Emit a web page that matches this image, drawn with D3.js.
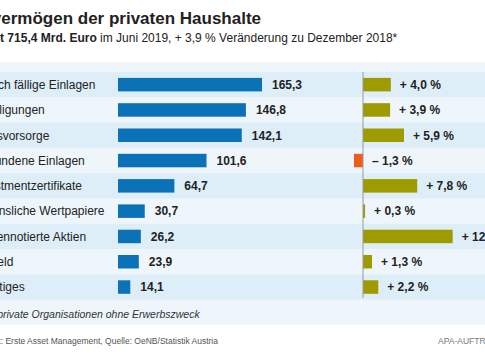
<!DOCTYPE html>
<html><head><meta charset="utf-8">
<script src="https://cdn.jsdelivr.net/npm/d3@7"></script>
<style>body{margin:0;background:#fff}svg{display:block;font-family:"Liberation Sans",Arial,sans-serif}</style>
</head><body>
<script>
const categories = ["Täglich fällige Einlagen","Beteiligungen","Altersvorsorge","Gebundene Einlagen","Investmentzertifikate","Verzinsliche Wertpapiere","Börsennotierte Aktien","Bargeld","Sonstiges"];
const volumes = [165.3,146.8,142.1,101.6,64.7,30.7,26.2,23.9,14.1];
const changes = [4.0,3.9,5.9,-1.3,7.8,0.3,12.9,1.3,2.2];

const W=485,H=360;
const svg=d3.select("body").append("svg").attr("width",W).attr("height",H);
const fmt=v=>d3.format(".1f")(Math.abs(v)).replace(".",",");

// panel
svg.append("rect").attr("x",0).attr("y",62).attr("width",W).attr("height",263).attr("fill","#eef6fc");

const y=d3.scaleBand().domain(categories).range([72,299.7]).padding(0);
const x1=d3.scaleLinear().domain([0,165.3]).range([118,262]);
const x2=d3.scaleLinear().domain([0,10]).range([363,432.5]);
const bh=13.5;

svg.selectAll(".stripe").data(categories.filter((d,i)=>i%2===0)).join("rect")
  .attr("x",0).attr("y",d=>y(d)).attr("width",W).attr("height",y.bandwidth()).attr("fill","#deeef9");

const cy=d=>y(d)+y.bandwidth()/2;

// labels
svg.selectAll(".lab").data(categories).join("text")
  .attr("x",-28).attr("y",d=>cy(d)+4.3).attr("font-size",12).attr("fill","#222").text(d=>d);

// volume bars
svg.selectAll(".vb").data(volumes).join("rect")
  .attr("x",x1(0)).attr("y",(d,i)=>cy(categories[i])-bh/2).attr("width",d=>x1(d)-x1(0)).attr("height",bh).attr("fill","#0b72b8");
svg.selectAll(".vl").data(volumes).join("text")
  .attr("x",d=>x1(d)+10).attr("y",(d,i)=>cy(categories[i])+4.3).attr("font-size",12).attr("font-weight","bold").attr("fill","#222").text(d=>fmt(d));

// change bars
svg.selectAll(".cb").data(changes).join("rect")
  .attr("x",d=>x2(Math.min(0,d))).attr("y",(d,i)=>cy(categories[i])-bh/2).attr("width",d=>Math.abs(x2(d)-x2(0))).attr("height",bh)
  .attr("fill",d=>d<0?"#ee5c1a":"#9e9b00");
svg.append("line").attr("x1",x2(0)).attr("x2",x2(0)).attr("y1",72).attr("y2",298).attr("stroke","#9a9a9a").attr("stroke-width",1);
svg.selectAll(".cl").data(changes).join("text")
  .attr("x",d=>x2(Math.max(0,d))+9).attr("y",(d,i)=>cy(categories[i])+4.3).attr("font-size",12).attr("font-weight","bold").attr("fill","#222")
  .text(d=>(d<0?"\u2013 ":"+ ")+fmt(d)+" %");

// title
svg.append("text").attr("x",-46).attr("y",24).attr("font-size",17).attr("font-weight","bold").attr("fill","#222").text("Geldvermögen der privaten Haushalte");
const st=svg.append("text").attr("x",-40).attr("y",41.5).attr("font-size",12).attr("fill","#222");
st.append("tspan").attr("font-weight","bold").text("Gesamt 715,4 Mrd. Euro");
st.append("tspan").text(" im Juni 2019, + 3,9 % Veränderung zu Dezember 2018*");

svg.append("text").attr("x",-28.5).attr("y",317.5).attr("font-size",10.5).attr("font-style","italic").attr("fill","#333").text("*inkl. private Organisationen ohne Erwerbszweck");
svg.append("text").attr("x",-22).attr("y",344).attr("font-size",8.5).attr("fill","#555").text("Grafik: Erste Asset Management, Quelle: OeNB/Statistik Austria");
svg.append("text").attr("x",438).attr("y",344).attr("font-size",8.5).attr("fill","#777").text("APA-AUFTRAGSGRAFIK");
</script>
</body></html>
